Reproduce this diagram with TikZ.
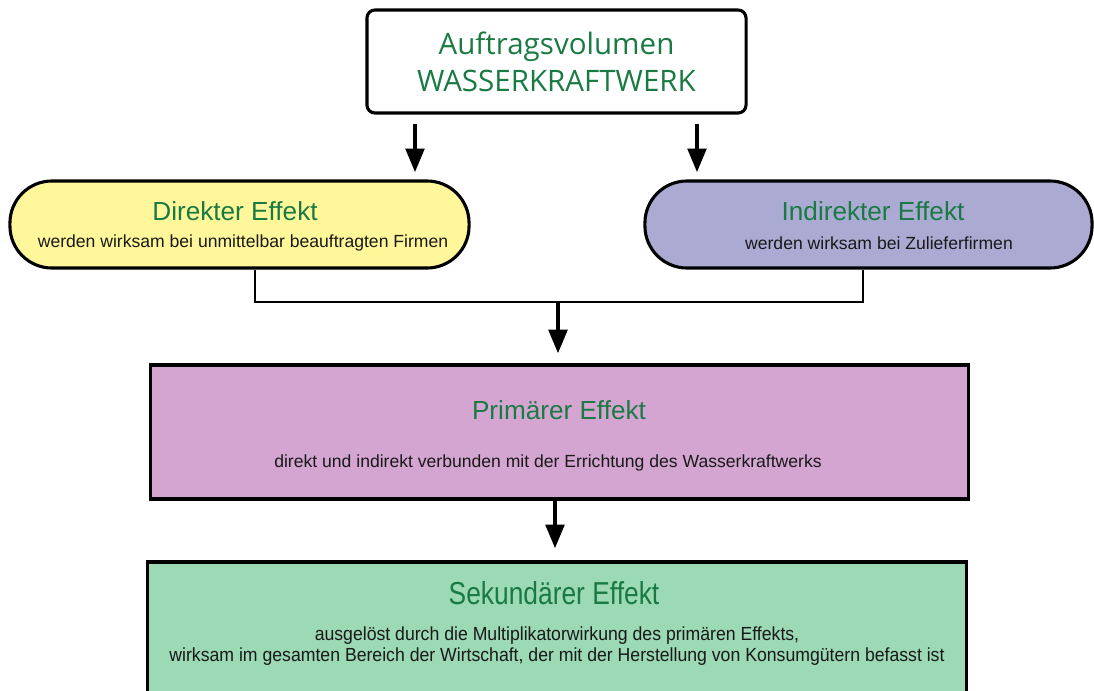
\documentclass[tikz,border=0pt]{standalone}
\usepackage{fontspec}
\setmainfont{Liberation Sans}
\newfontfamily\headfont{Open Sans}
\newfontfamily\narrowfont[FakeStretch=0.83]{Liberation Sans}
\newfontfamily\slimfont[FakeStretch=0.93]{Liberation Sans}
\usetikzlibrary{arrows.meta}
\definecolor{titlegreen}{RGB}{26,122,68}
\definecolor{direktfill}{RGB}{255,247,153}
\definecolor{indirektfill}{RGB}{170,170,210}
\definecolor{primaerfill}{RGB}{212,165,208}
\definecolor{sekundaerfill}{RGB}{156,217,181}

\begin{document}
\begin{tikzpicture}[x=0.025cm,y=-0.025cm]

\tikzset{
  BoxStyle/.style = { draw, line width=2.2pt, inner sep=0pt },
  PillStyle/.style = { BoxStyle, rounded corners=1.05cm,
                       minimum width=11.3cm, minimum height=2.175cm },
  TitleStyle/.style = { text=titlegreen,
                        font = \fontsize{18.6}{22}\selectfont },
  TextStyle/.style = { text=black!90,
                       font = \fontsize{12.5}{15}\selectfont },
  LinkStyle/.style = { line width=1.4pt },
  ArrowStyle/.style = { line width=3.3pt,
                        -{Triangle[length=17pt,width=13pt]} } }
  \useasboundingbox (0,0) rectangle (1094,691);

  \node[BoxStyle, rounded corners=0.2cm, minimum width=9.475cm,
        minimum height=2.575cm] (auftrag) at (556.5,61.5) {};
  \node[text=titlegreen, align=center,
        font=\headfont\fontsize{21}{26.5}\selectfont] (auftragtext) at (556.5,61.5)
        {Auftragsvolumen\\WASSERKRAFTWERK};

  \node[PillStyle, fill=direktfill, minimum width=11.475cm] (direkt) at (239.5,224.5) {};
  \node[TitleStyle] (direkttitle) at (235,211) {Direkter Effekt};
  \node[TextStyle] (direkttext) at (243,243) {werden wirksam bei unmittelbar beauftragten Firmen};

  \node[PillStyle, fill=indirektfill, minimum width=11.175cm] (indirekt) at (868.5,224.5) {};
  \node[TitleStyle] (indirekttitle) at (873,211) {Indirekter Effekt};
  \node[TextStyle] (indirekttext) at (879,243) {werden wirksam bei Zulieferfirmen};

  \node[BoxStyle, fill=primaerfill, minimum width=20.425cm,
        minimum height=3.35cm] (primaer) at (559.5,432) {};
  \node[TitleStyle] (primaertitle) at (559,410) {Primärer Effekt};
  \node[TextStyle] (primaertext) at (548,463)
        {direkt und indirekt verbunden mit der Errichtung des Wasserkraftwerks};

  \node[BoxStyle, fill=sekundaerfill, minimum width=20.45cm,
        minimum height=3.95cm] (sekundaer) at (557,641) {};
  \node[text=titlegreen, font=\narrowfont\fontsize{22.6}{26}\selectfont]
        (sekundaertitle) at (554,593) {Sekundärer Effekt};
  \node[text=black!90, align=center, font=\slimfont\fontsize{13.5}{15.2}\selectfont]
        (sekundaertext) at (557,646)
        {ausgelöst durch die Multiplikatorwirkung des primären Effekts,\\
         wirksam im gesamten Bereich der Wirtschaft, der mit der Herstellung von Konsumgütern befasst ist};

  \coordinate (join) at (558,302);

  \draw[ArrowStyle, shorten <=6.4pt, shorten >=5pt]
        (auftrag.south -| 415,0) -- (direkt.north -| 415,0);
  \draw[ArrowStyle, shorten <=6.4pt, shorten >=5pt]
        (auftrag.south -| 697,0) -- (indirekt.north -| 697,0);
  \draw[LinkStyle] (direkt.south -| 255,0) |- (join) -| (indirekt.south -| 863,0);
  \draw[ArrowStyle, shorten >=7pt] (join) -- (join |- primaer.north);
  \draw[ArrowStyle, shorten >=8.5pt] (primaer.south -| 555,0) -- (sekundaer.north -| 555,0);

\end{tikzpicture}
\end{document}
